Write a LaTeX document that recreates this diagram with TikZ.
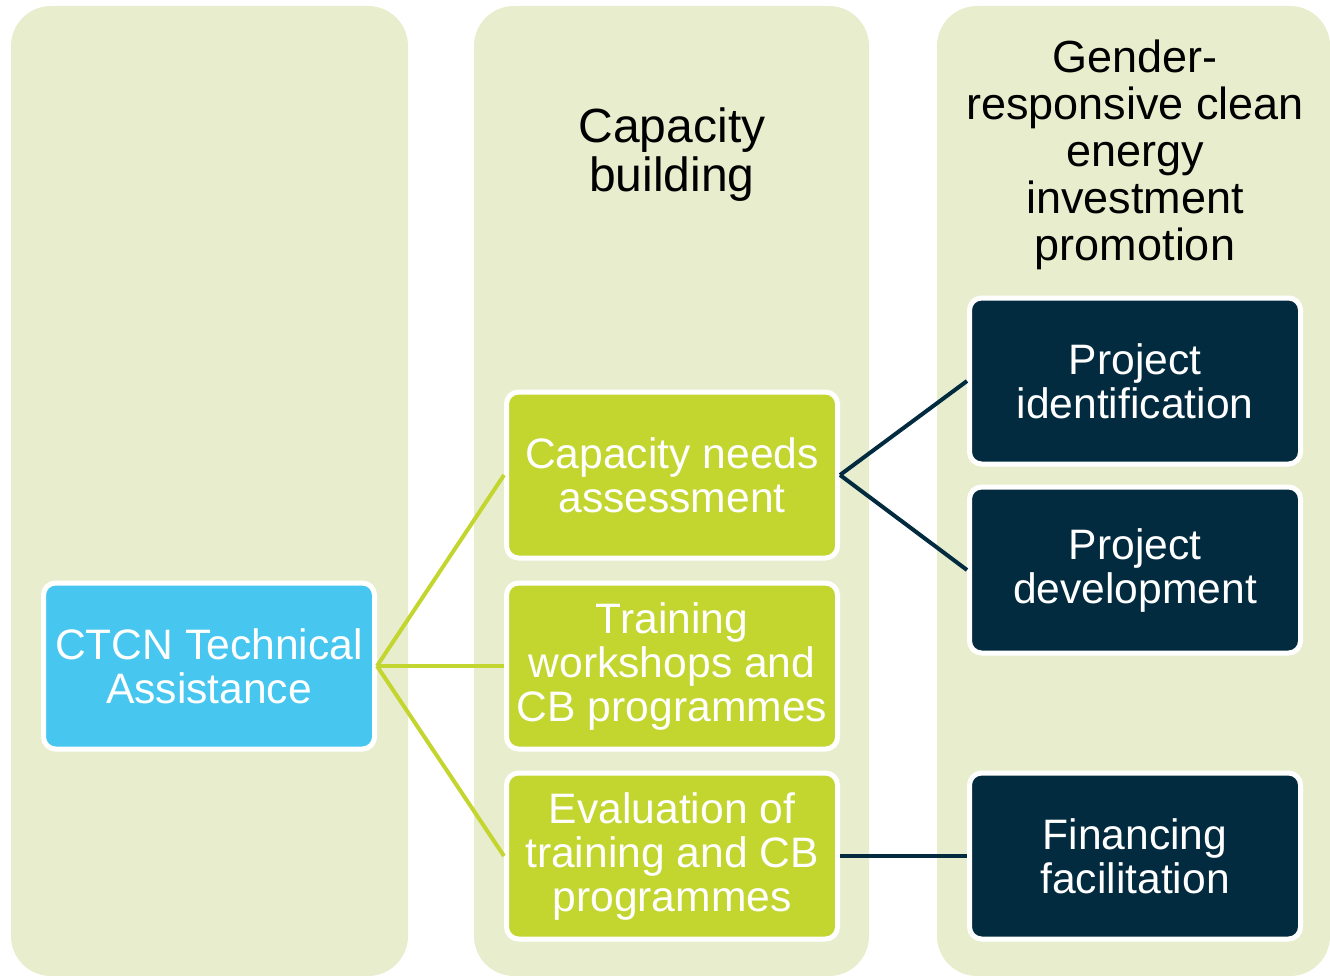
\documentclass[tikz,border=0pt]{standalone}
\usepackage{fontspec}
\setmainfont{Liberation Sans}
\definecolor{colbg}{HTML}{E8EECD}
\definecolor{lime}{HTML}{C3D52F}
\definecolor{sky}{HTML}{47C7F0}
\definecolor{navy}{HTML}{022B40}
\begin{document}
\begin{tikzpicture}[x=1pt,y=-1pt,
  column/.style={fill=colbg, rounded corners=40pt},
  box/.style={draw=white, line width=5pt, rounded corners=12pt, minimum width=331pt, minimum height=166pt, inner sep=0pt, align=center, text=white, font=\fontsize{42.6}{44}\selectfont},
  skybox/.style={box, fill=sky},
  limebox/.style={box, fill=lime},
  navybox/.style={box, fill=navy},
  header/.style={align=center, font=\fontsize{45}{47}\selectfont, text=black, inner sep=0pt},
  bigheader/.style={align=center, font=\fontsize{48}{49}\selectfont, text=black, inner sep=0pt},
  limelink/.style={draw=lime, line width=4pt},
  navylink/.style={draw=navy, line width=4pt}]
\useasboundingbox (0,0) rectangle (1330,976);
% columns
\fill[column] (11,6) rectangle (408,976);
\fill[column] (474,6) rectangle (869,976);
\fill[column] (937,6) rectangle (1330,976);
% headers
\node[bigheader] (hcb) at (672,155) {Capacity\\building};
\node[header] (hgr) at (1135,155) {Gender-\\responsive clean\\energy\\investment\\promotion};
% boxes
\node[skybox] (ctcn) at (209,666) {CTCN Technical\\Assistance};
\node[limebox] (cna) at (672,475) {Capacity needs\\assessment};
\node[limebox] (trn) at (672,666) {Training\\workshops and\\CB programmes};
\node[limebox] (evl) at (672,856) {Evaluation of\\training and CB\\programmes};
\node[navybox] (pid) at (1135,381) {Project\\identification};
\node[navybox] (pdv) at (1135,570) {Project\\development};
\node[navybox] (fin) at (1135,856) {Financing\\facilitation};
% connectors
\draw[limelink] (ctcn.east) -- (cna.west);
\draw[limelink] (ctcn.east) -- (trn.west);
\draw[limelink] (ctcn.east) -- (evl.west);
\draw[navylink] (cna.east) -- (pid.west);
\draw[navylink] (cna.east) -- (pdv.west);
\draw[navylink] (evl.east) -- (fin.west);
\end{tikzpicture}
\end{document}
